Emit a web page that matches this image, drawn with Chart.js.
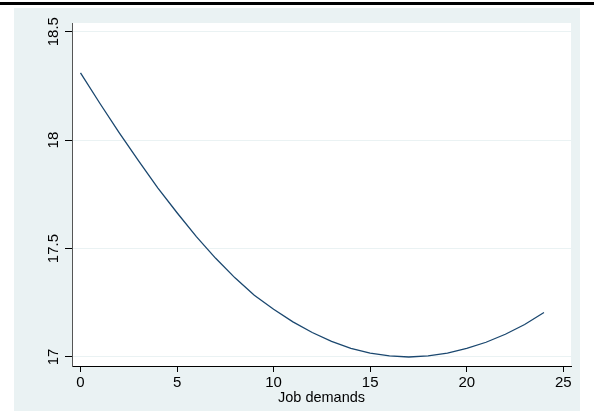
<!DOCTYPE html>
<html>
<head>
<meta charset="utf-8">
<script src="https://cdn.jsdelivr.net/npm/chart.js@4/dist/chart.umd.min.js"></script>
<style>
  html, body { margin: 0; padding: 0; background: #fff; }
  #wrap { width: 594px; height: 419px; }
</style>
</head>
<body>
<div id="wrap"><canvas id="chart" width="594" height="419"></canvas></div>
<script>
// job demands 0..24 and the fitted outcome
var jobDemands = [0, 1, 2, 3, 4, 5, 6, 7, 8, 9, 10, 11, 12, 13, 14, 15, 16, 17, 18, 19, 20, 21, 22, 23, 24];
var fitted = [18.31, 18.17, 18.035, 17.905, 17.78, 17.665, 17.555, 17.455, 17.365, 17.285, 17.22,
              17.162, 17.113, 17.072, 17.04, 17.018, 17.005, 17.0, 17.005, 17.018, 17.04, 17.068, 17.105, 17.15, 17.205];
var yTicks = [17, 17.5, 18, 18.5];
var xTicks = [0, 5, 10, 15, 20, 25];
var xTitle = 'Job demands';

var panelBlue = '#eaf2f3';
var font = 'Liberation Sans, Arial, sans-serif';

var backdrop = {
  id: 'backdrop',
  beforeDraw: function(chart) {
    var ctx = chart.ctx, a = chart.chartArea;
    ctx.save();
    ctx.fillStyle = '#fff';
    ctx.fillRect(0, 0, chart.width, chart.height);
    ctx.fillStyle = '#000';
    ctx.fillRect(0, 2, chart.width, 3);
    ctx.fillStyle = panelBlue;
    ctx.fillRect(14, 8, 566, 403);
    ctx.fillStyle = '#fff';
    ctx.fillRect(a.left, a.top, a.right - a.left, a.bottom - a.top);
    ctx.restore();
  },
  afterDraw: function(chart) {
    var ctx = chart.ctx, y = chart.scales.y, a = chart.chartArea;
    ctx.save();
    ctx.fillStyle = '#000';
    ctx.font = '15px ' + font;
    // vertical y labels, Stata style
    ctx.textAlign = 'center';
    ctx.textBaseline = 'alphabetic';
    yTicks.forEach(function(v) {
      ctx.save();
      ctx.translate(58, y.getPixelForValue(v));
      ctx.rotate(-Math.PI / 2);
      ctx.fillText(String(v), 0, 0);
      ctx.restore();
    });
    ctx.font = '14.5px ' + font;
    ctx.fillText(xTitle, (a.left + a.right) / 2, 401.5);
    ctx.restore();
  }
};

new Chart(document.getElementById('chart'), {
  type: 'line',
  data: {
    datasets: [{
      data: jobDemands.map(function(x, i) { return { x: x, y: fitted[i] }; }),
      borderColor: '#1a476f',
      borderWidth: 1.3,
      pointRadius: 0,
      tension: 0,
      fill: false
    }]
  },
  options: {
    responsive: false,
    animation: false,
    devicePixelRatio: 1,
    layout: { padding: { left: 0, right: 23, top: 23, bottom: 0 } },
    plugins: { legend: { display: false }, tooltip: { enabled: false } },
    scales: {
      x: {
        type: 'linear',
        min: -0.44,
        max: 25.4,
        afterBuildTicks: function(s) { s.ticks = xTicks.map(function(v) { return { value: v }; }); },
        afterFit: function(s) { s.height = 53; },
        ticks: { color: '#000', font: { family: font, size: 15 }, padding: 2, maxRotation: 0 },
        grid: { drawOnChartArea: false, drawTicks: true, tickLength: 6, tickColor: '#000' },
        border: { color: '#000', width: 1 }
      },
      y: {
        type: 'linear',
        min: 16.9585,
        max: 18.54,
        afterBuildTicks: function(s) { s.ticks = yTicks.map(function(v) { return { value: v }; }); },
        afterFit: function(s) { s.width = 72; },
        ticks: { display: false },
        grid: { color: panelBlue, lineWidth: 1, drawTicks: true, tickLength: 7, tickColor: '#000' },
        border: { color: '#555', width: 1 }
      }
    }
  },
  plugins: [backdrop]
});
</script>
</body>
</html>
